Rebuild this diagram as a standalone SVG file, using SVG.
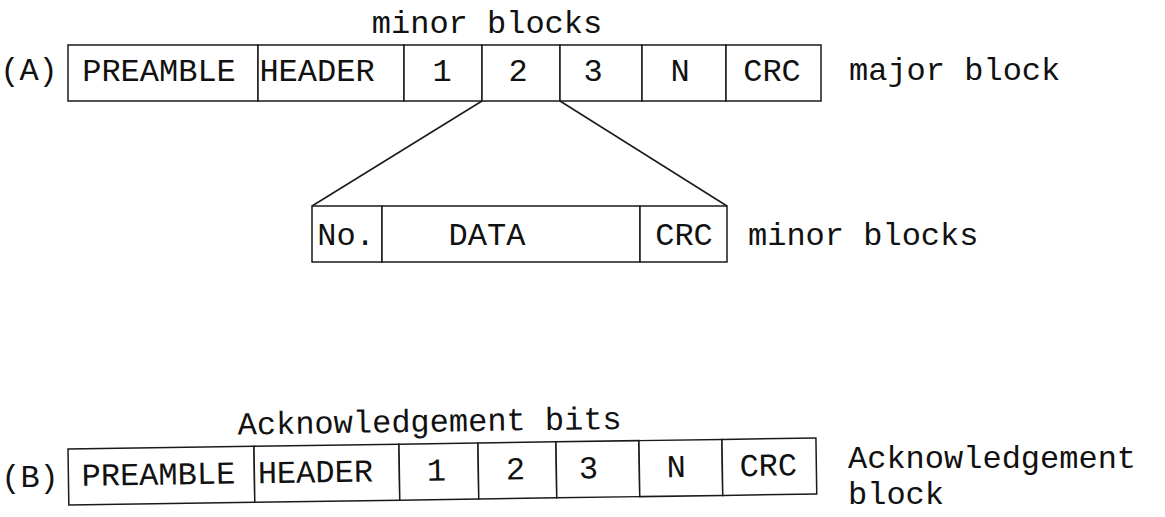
<svg xmlns="http://www.w3.org/2000/svg" width="1165" height="517" viewBox="0 0 1165 517">
<style>
  .cell { fill: #fff; stroke: #1a1a1a; stroke-width: 1.5; }
  .t { font-family: "Liberation Mono", "Courier New", monospace; font-size: 32px; fill: #111; }
  .m { text-anchor: middle; }
  .conn { stroke: #1a1a1a; stroke-width: 1.5; fill: none; }
</style>
<rect width="1165" height="517" fill="#fff"/>

<!-- Row A: major block -->
<g id="rowA">
  <text class="t m" x="29" y="80">(A)</text>
  <text class="t m" x="487" y="33">minor blocks</text>
  <g id="a-preamble"><rect class="cell" x="68" y="45" width="190" height="56"/><text class="t m" x="159" y="81">PREAMBLE</text></g>
  <g id="a-header"><rect class="cell" x="258" y="45" width="146" height="56"/><text class="t m" x="317" y="81">HEADER</text></g>
  <g id="a-1"><rect class="cell" x="404" y="45" width="78" height="56"/><text class="t m" x="442" y="81">1</text></g>
  <g id="a-2"><rect class="cell" x="482" y="45" width="78" height="56"/><text class="t m" x="518" y="81">2</text></g>
  <g id="a-3"><rect class="cell" x="560" y="45" width="82" height="56"/><text class="t m" x="593" y="81">3</text></g>
  <g id="a-n"><rect class="cell" x="642" y="45" width="84" height="56"/><text class="t m" x="680" y="81">N</text></g>
  <g id="a-crc"><rect class="cell" x="726" y="45" width="95" height="56"/><text class="t m" x="772" y="81">CRC</text></g>
  <text class="t" x="849" y="80">major block</text>
</g>

<!-- Minor block detail -->
<g id="minor">
  <g id="m-no"><rect class="cell" x="312" y="206" width="70" height="56"/><text class="t m" x="346" y="245">No.</text></g>
  <g id="m-data"><rect class="cell" x="382" y="206" width="258" height="56"/><text class="t m" x="487" y="245">DATA</text></g>
  <g id="m-crc"><rect class="cell" x="640" y="206" width="87" height="56"/><text class="t m" x="684" y="245">CRC</text></g>
  <text class="t" x="748" y="245">minor blocks</text>
</g>

<!-- Connectors -->
<g id="connectors">
  <line class="conn" x1="482" y1="101" x2="312" y2="206"/>
  <line class="conn" x1="560" y1="101" x2="727" y2="206"/>
</g>

<!-- Row B: acknowledgement block -->
<g id="rowB">
  <text class="t m" x="30" y="487">(B)</text>
  <g transform="rotate(-0.84 68 449)">
    <text class="t m" x="430" y="437">Acknowledgement bits</text>
    <g id="b-preamble"><rect class="cell" x="68" y="449" width="186" height="56"/><text class="t m" x="158" y="486">PREAMBLE</text></g>
    <g id="b-header"><rect class="cell" x="254" y="449" width="145" height="56"/><text class="t m" x="315" y="486">HEADER</text></g>
    <g id="b-1"><rect class="cell" x="399" y="449" width="79" height="56"/><text class="t m" x="436" y="486">1</text></g>
    <g id="b-2"><rect class="cell" x="478" y="449" width="78" height="56"/><text class="t m" x="515" y="486">2</text></g>
    <g id="b-3"><rect class="cell" x="556" y="449" width="83" height="56"/><text class="t m" x="588" y="486">3</text></g>
    <g id="b-n"><rect class="cell" x="639" y="449" width="83" height="56"/><text class="t m" x="676" y="486">N</text></g>
    <g id="b-crc"><rect class="cell" x="722" y="449" width="94" height="56"/><text class="t m" x="768" y="486">CRC</text></g>
  </g>
  <text class="t" x="848" y="468">Acknowledgement</text>
  <text class="t" x="848" y="504">block</text>
</g>
</svg>
